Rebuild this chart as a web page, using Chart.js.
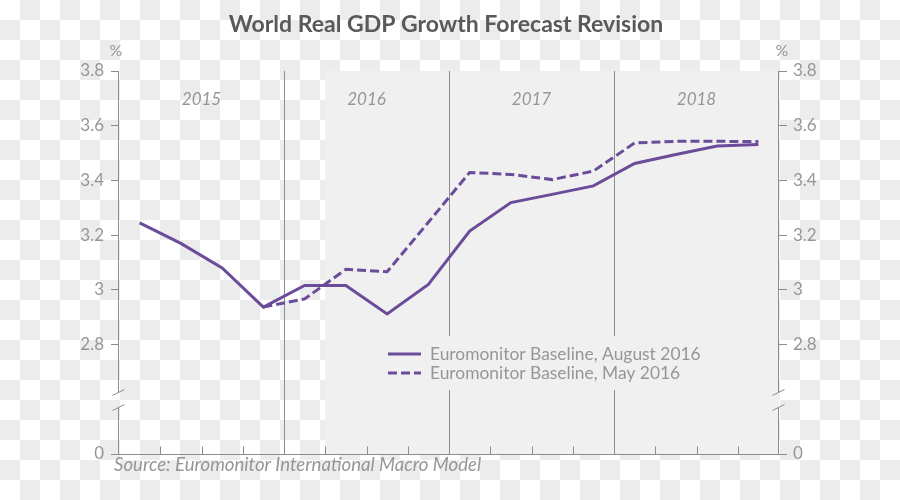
<!DOCTYPE html>
<html>
<head>
<meta charset="utf-8">
<title>World Real GDP Growth Forecast Revision</title>
<script src="https://cdn.jsdelivr.net/npm/chart.js@4.4.1/dist/chart.umd.min.js"></script>
<style>
  body {
    margin: 0;
    background: repeating-conic-gradient(#ececec 0 25%, #ffffff 0 50%) 0 0 / 40px 40px;
  }
  #wrap { width: 900px; height: 500px; }
</style>
</head>
<body>
<div id="wrap"><canvas id="gdpChart" width="900" height="500"></canvas></div>
<script>
// quarterly forecast, 2015 Q1 .. 2018 Q4
const quarters = [
    "2015 Q1", "2015 Q2", "2015 Q3", "2015 Q4",
    "2016 Q1", "2016 Q2", "2016 Q3", "2016 Q4",
    "2017 Q1", "2017 Q2", "2017 Q3", "2017 Q4",
    "2018 Q1", "2018 Q2", "2018 Q3", "2018 Q4"
];
const years = ["2015", "2016", "2017", "2018"];
const august2016 = [3.245, 3.17, 3.08, 2.937, 3.016, 3.016, 2.912, 3.02, 3.215, 3.319, 3.349, 3.38, 3.462, 3.495, 3.526, 3.531];
const may2016 = [null, null, null, 2.937, 2.967, 3.075, 3.066, 3.247, 3.429, 3.422, 3.403, 3.434, 3.537, 3.543, 3.543, 3.542];
const seriesLabels = ["Euromonitor Baseline, August 2016", "Euromonitor Baseline, May 2016"];
const yTicks = [0, 2.8, 3, 3.2, 3.4, 3.6, 3.8];
const axisBreakBase = 2.4;   // where "0" sits on the broken axis
const forecastStart = 4.5;   // shading starts between 2016 Q1 and Q2

const purple = "#6b4c9a";
const axisGrey = "#8c8c8c";
const textGrey = "#969696";

Chart.defaults.font.family = "Lato, 'Open Sans', sans-serif";

const decorations = {
    id: "decorations",
    beforeDatasetsDraw(chart) {
        const { ctx, chartArea: a, scales: { x } } = chart;
        ctx.save();

        // forecast shading
        const sx = x.getPixelForValue(forecastStart);
        ctx.fillStyle = "#f0f0f0";
        ctx.fillRect(sx, a.top, a.right - sx, a.bottom - a.top);

        // year dividers and labels
        const edges = [a.left];
        years.forEach((_, i) => {
            edges.push(i < years.length - 1 ? x.getPixelForValue(4 * (i + 1) - 0.5) : a.right);
        });
        ctx.strokeStyle = axisGrey;
        ctx.lineWidth = 1;
        for (let i = 1; i < edges.length - 1; i++) {
            const px = Math.round(edges[i]) + 0.5;
            ctx.beginPath();
            ctx.moveTo(px, a.top);
            ctx.lineTo(px, a.bottom);
            ctx.stroke();
        }
        ctx.fillStyle = textGrey;
        ctx.font = "italic 17px Lato";
        ctx.textAlign = "center";
        ctx.textBaseline = "middle";
        years.forEach((yr, i) => ctx.fillText(yr, (edges[i] + edges[i + 1]) / 2, a.top + 29));

        // bottom axis with inward tick marks
        const by = Math.round(a.bottom) + 0.5;
        ctx.beginPath();
        ctx.moveTo(a.left, by);
        ctx.lineTo(a.right, by);
        for (let k = 0; k < quarters.length - 1; k++) {
            const px = Math.round(x.getPixelForValue(k + 0.5)) + 0.5;
            ctx.moveTo(px, by);
            ctx.lineTo(px, by - 8);
        }
        ctx.stroke();

        // side axes with a break
        const y = chart.scales.y;
        const gapTop = y.getPixelForValue(2.625);
        const gapBottom = y.getPixelForValue(2.57);
        [a.left, a.right].forEach((edge) => {
            const px = Math.round(edge) - 0.5;
            ctx.beginPath();
            ctx.moveTo(px, a.top);
            ctx.lineTo(px, gapTop);
            ctx.moveTo(px, gapBottom);
            ctx.lineTo(px, a.bottom);
            ctx.moveTo(px - 6, gapTop + 3);
            ctx.lineTo(px + 6, gapTop - 3);
            ctx.moveTo(px - 6, gapBottom + 3);
            ctx.lineTo(px + 6, gapBottom - 3);
            ctx.stroke();
        });
        ctx.restore();
    },
    afterDraw(chart) {
        const { ctx, chartArea: a } = chart;
        ctx.save();

        // title
        ctx.fillStyle = "#595959";
        ctx.font = "bold 23px Lato";
        ctx.textAlign = "center";
        ctx.textBaseline = "alphabetic";
        ctx.fillText("World Real GDP Growth Forecast Revision", 446, 32);

        // unit labels
        ctx.fillStyle = textGrey;
        ctx.font = "16px Lato";
        ctx.textBaseline = "middle";
        ctx.fillText("%", a.left - 3, 51);
        ctx.fillText("%", a.right + 3, 51);

        // legend inside the plot
        ctx.fillStyle = "#f0f0f0";
        ctx.fillRect(380, 336, 330, 54);
        ctx.textAlign = "left";
        ctx.font = "17.4px Lato";
        chart.data.datasets.forEach((ds, i) => {
            const ly = 354 + i * 19;
            ctx.strokeStyle = ds.borderColor;
            ctx.lineWidth = ds.borderWidth;
            ctx.setLineDash(ds.borderDash || []);
            ctx.beginPath();
            ctx.moveTo(388, ly);
            ctx.lineTo(421, ly);
            ctx.stroke();
            ctx.setLineDash([]);
            ctx.fillStyle = textGrey;
            ctx.fillText(ds.label, 430, ly);
        });

        // source note
        ctx.font = "italic 18.6px Lato";
        ctx.textBaseline = "alphabetic";
        ctx.fillText("Source: Euromonitor International Macro Model", 114, 471);
        ctx.restore();
    }
};

const sideAxis = (position, width, pad) => ({
    type: "linear",
    position,
    min: axisBreakBase,
    max: 3.8,
    afterBuildTicks: (scale) => {
        scale.ticks = yTicks.map((t) => ({ value: t === 0 ? axisBreakBase : t }));
    },
    afterFit: (scale) => { scale.width = width; },
    ticks: {
        color: textGrey,
        font: { size: 17 },
        padding: pad,
        callback: (value, i) => String(yTicks[i]),
    },
    grid: { drawOnChartArea: false, drawTicks: true, tickLength: 8, color: axisGrey },
    border: { display: false },
});

new Chart(document.getElementById("gdpChart"), {
    type: "line",
    data: {
        labels: quarters,
        datasets: [
            {
                label: seriesLabels[0],
                data: august2016,
                borderColor: purple,
                borderWidth: 3,
                pointRadius: 0,
                yAxisID: "y",
            },
            {
                label: seriesLabels[1],
                data: may2016,
                borderColor: purple,
                borderWidth: 3,
                borderDash: [9, 4],
                pointRadius: 0,
                yAxisID: "y",
            },
        ],
    },
    options: {
        responsive: false,
        animation: false,
        layout: { padding: { top: 71, bottom: 46, left: 0, right: 0 } },
        plugins: {
            legend: { display: false },
            tooltip: { enabled: false },
        },
        scales: {
            x: { type: "category", offset: true, display: false },
            y: sideAxis("left", 119, 7),
            y2: sideAxis("right", 121, 6),
        },
    },
    plugins: [decorations],
});
</script>
</body>
</html>
